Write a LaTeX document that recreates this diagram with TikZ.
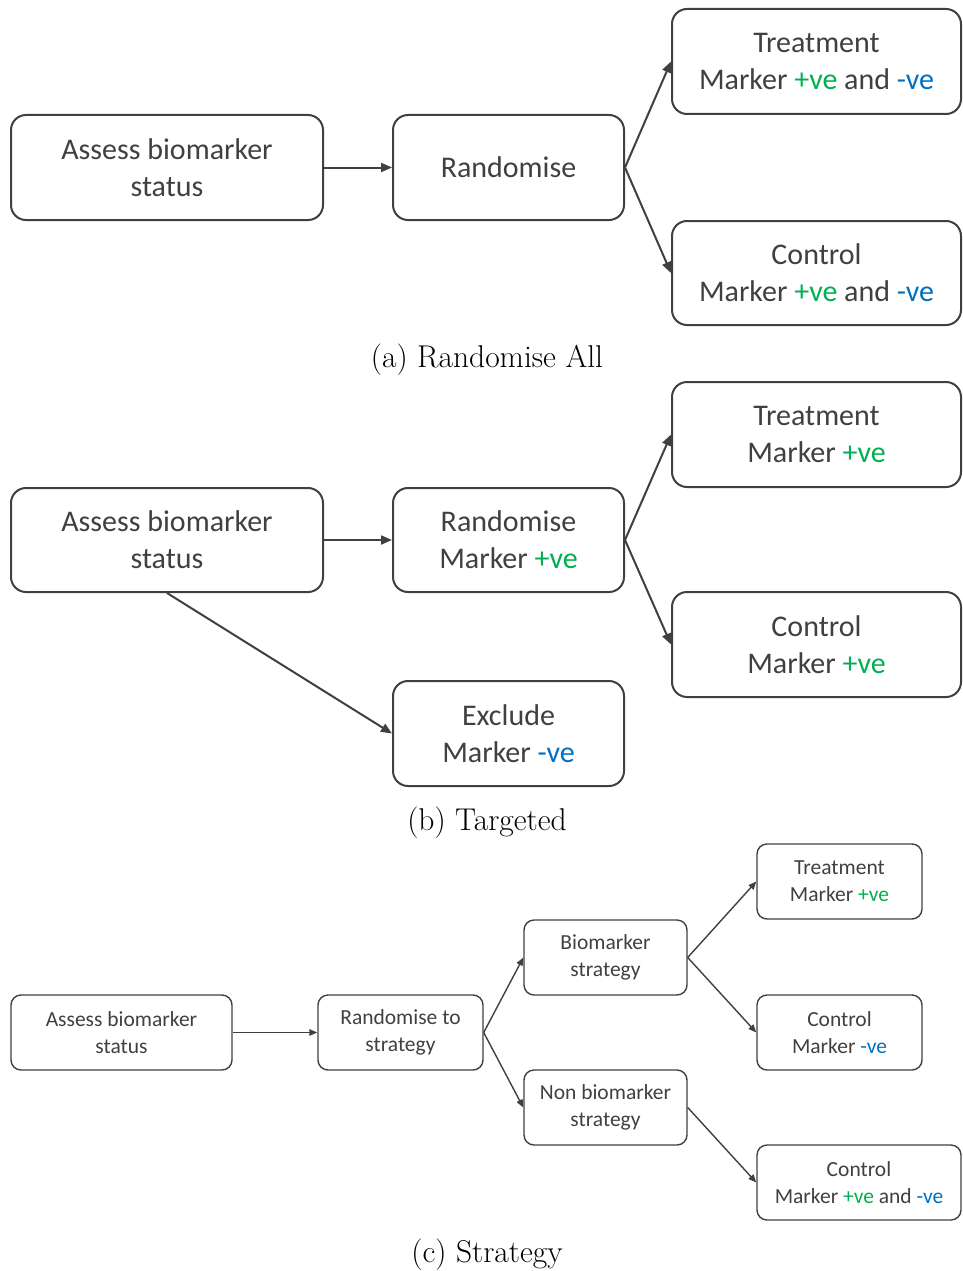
\documentclass[tikz,border=0pt]{standalone}
\usepackage{fontspec}
\newfontfamily\boxfont{Carlito}
\usetikzlibrary{arrows.meta}
\definecolor{ink}{HTML}{404040}
\definecolor{pos}{HTML}{00B050}
\definecolor{neg}{HTML}{0070C0}
\newcommand{\plusve}{\textcolor{pos}{+ve}}
\newcommand{\minusve}{\textcolor{neg}{-ve}}
\tikzset{
  bigbox/.style={draw=ink, line width=2pt, rounded corners=15pt, inner sep=0pt,
    align=center, text=ink, font=\boxfont\fontsize{30}{37}\selectfont},
  smallbox/.style={draw=ink, line width=1.4pt, rounded corners=10pt, inner sep=0pt,
    align=center, text=ink, font=\boxfont\fontsize{21.5}{27}\selectfont},
  bigarrow/.style={draw=ink, line width=2pt, -{Triangle[length=11pt,width=9pt]}},
  smallarrow/.style={draw=ink, line width=1.4pt, -{Triangle[length=8pt,width=6.5pt]}},
  caption/.style={font=\fontsize{31.5}{36}\selectfont, text=black}
}
\begin{document}
\begin{tikzpicture}[x=1pt, y=-1pt]
\useasboundingbox (0,0) rectangle (962,1271);

% (a) Randomise All
\node[bigbox, minimum width=312pt, minimum height=105pt] (aA) at (167,167.5) {Assess biomarker\\status};
\node[bigbox, minimum width=231pt, minimum height=105pt] (aR) at (508.5,167.5) {Randomise};
\node[bigbox, minimum width=289pt, minimum height=105pt] (aT) at (816.5,61.5) {Treatment\\Marker \plusve{} and \minusve};
\node[bigbox, minimum width=289pt, minimum height=104pt] (aC) at (816.5,273) {Control\\Marker \plusve{} and \minusve};
\draw[bigarrow] (aA.east) -- (aR.west);
\draw[bigarrow] (aR.east) -- (aT.west);
\draw[bigarrow] (aR.east) -- (aC.west);
\node[caption] (capA) at (487,360) {(a) Randomise All};

% (b) Targeted
\node[bigbox, minimum width=312pt, minimum height=104pt] (bA) at (167,540) {Assess biomarker\\status};
\node[bigbox, minimum width=231pt, minimum height=104pt] (bR) at (508.5,540) {Randomise\\Marker \plusve};
\node[bigbox, minimum width=289pt, minimum height=105pt] (bT) at (816.5,434.5) {Treatment\\Marker \plusve};
\node[bigbox, minimum width=289pt, minimum height=105pt] (bC) at (816.5,644.5) {Control\\Marker \plusve};
\node[bigbox, minimum width=231pt, minimum height=105pt] (bE) at (508.5,733.5) {Exclude\\Marker \minusve};
\draw[bigarrow] (bA.east) -- (bR.west);
\draw[bigarrow] (bR.east) -- (bT.west);
\draw[bigarrow] (bR.east) -- (bC.west);
\draw[bigarrow] (bA.south) -- (bE.west);
\node[caption] (capB) at (487,823) {(b) Targeted};

% (c) Strategy
\node[smallbox, minimum width=221pt, minimum height=75pt] (cA) at (121.5,1032.5) {Assess biomarker\\status};
\node[smallbox, minimum width=165pt, minimum height=75pt] (cR) at (400.5,1032.5) {Randomise to\\strategy};
\node[smallbox, minimum width=163pt, minimum height=75pt] (cB) at (605.5,957.5) {Biomarker\\strategy};
\node[smallbox, minimum width=163pt, minimum height=75pt] (cN) at (605.5,1107.5) {Non biomarker\\strategy};
\node[smallbox, minimum width=165pt, minimum height=75pt] (cT) at (839.5,881.5) {Treatment\\Marker \plusve};
\node[smallbox, minimum width=165pt, minimum height=75pt] (cC) at (839.5,1032.5) {Control\\Marker \minusve};
\node[smallbox, minimum width=204pt, minimum height=75pt] (cK) at (859,1182.5) {Control\\Marker \plusve{} and \minusve};
\draw[smallarrow] (cA.east) -- (cR.west);
\draw[smallarrow] (cR.east) -- (cB.west);
\draw[smallarrow] (cR.east) -- (cN.west);
\draw[smallarrow] (cB.east) -- (cT.west);
\draw[smallarrow] (cB.east) -- (cC.west);
\draw[smallarrow] (cN.east) -- (cK.west);
\node[caption] (capC) at (487,1255) {(c) Strategy};
\end{tikzpicture}
\end{document}
